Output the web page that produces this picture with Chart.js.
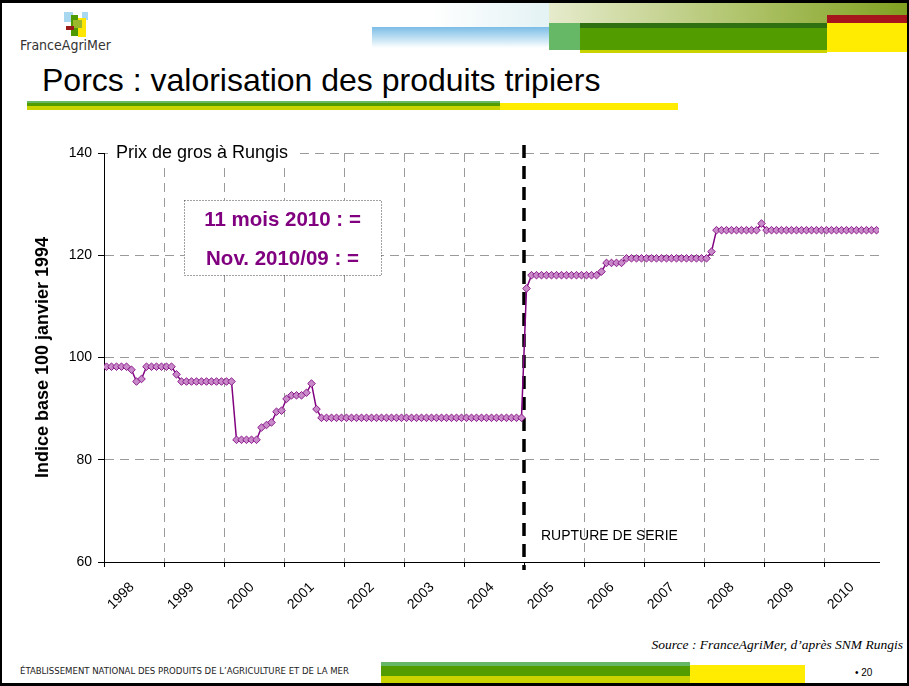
<!DOCTYPE html>
<html>
<head>
<meta charset="utf-8">
<script src="https://cdn.jsdelivr.net/npm/chart.js@4.4.0/dist/chart.umd.min.js"></script>
<style>
  body { margin: 0; background: #fff; }
  #slide { position: relative; width: 909px; height: 686px; overflow: hidden; background: #fff;
           font-family: "Liberation Sans", Arial, sans-serif; }
  .b { position: absolute; }
  .t { position: absolute; white-space: nowrap; line-height: 1; }
  canvas { position: absolute; left: 0; top: 0; }
</style>
</head>
<body>
<div id="slide">
  <!-- header bands -->
  <div class="b" style="left:430px;top:0;width:120px;height:28px;background:linear-gradient(to right,#fff,#e3f2f4);"></div>
  <div class="b" style="left:372px;top:27px;width:177px;height:21px;background:linear-gradient(to bottom,#7cbde6,#cfe9f6 65%,#fff);"></div>
  <div class="b" style="left:549px;top:3px;width:360px;height:20px;background:linear-gradient(to right,#e6ebcc,#a9bf60 60%,#7fa020);"></div>
  <div class="b" style="left:827px;top:15px;width:82px;height:8px;background:#a5151b;"></div>
  <div class="b" style="left:549px;top:23px;width:31px;height:27px;background:#66b866;"></div>
  <div class="b" style="left:580px;top:23px;width:247px;height:5px;background:#2f7010;"></div>
  <div class="b" style="left:580px;top:28px;width:247px;height:22px;background:#529c00;"></div>
  <div class="b" style="left:580px;top:50px;width:247px;height:3px;background:#c9d300;"></div>
  <div class="b" style="left:827px;top:23px;width:82px;height:29px;background:#ffec00;"></div>

  <!-- logo -->
  <div class="b" style="left:64px;top:12px;width:9px;height:10px;background:#a8d8f0;"></div>
  <div class="b" style="left:82px;top:12px;width:6px;height:8px;background:#a8d8f0;"></div>
  <div class="b" style="left:71px;top:15px;width:7px;height:21px;background:#4f9a00;"></div>
  <div class="b" style="left:78px;top:18px;width:8px;height:19px;background:#ffe600;"></div>
  <div class="b" style="left:73px;top:20px;width:9px;height:8px;background:#9ab82a;"></div>
  <div class="b" style="left:66px;top:26px;width:8px;height:4px;background:#9b1b1b;"></div>
  <div class="t" style="left:20px;top:38px;font-family:'Liberation Sans Narrow','DejaVu Sans Condensed',sans-serif;font-size:14px;color:#333;">FranceAgriMer</div>

  <!-- title -->
  <div class="t" style="left:42px;top:64px;font-size:32px;color:#000;">Porcs : valorisation des produits tripiers</div>
  <div class="b" style="left:27px;top:101px;width:473px;height:2px;background:#66b866;"></div>
  <div class="b" style="left:27px;top:103px;width:473px;height:3px;background:#529c00;"></div>
  <div class="b" style="left:27px;top:106px;width:473px;height:4px;background:#c9d300;"></div>
  <div class="b" style="left:500px;top:103px;width:178px;height:7px;background:#ffec00;"></div>

  <!-- footer -->
  <div class="t" style="left:601px;top:638px;width:302px;text-align:right;font-family:'Liberation Serif',serif;font-style:italic;font-size:13.5px;color:#000;">Source : FranceAgriMer, d’après SNM Rungis</div>
  <div class="t" style="left:20px;top:666px;font-family:'Liberation Sans Narrow','DejaVu Sans Condensed',sans-serif;font-size:9.5px;color:#222;">ÉTABLISSEMENT NATIONAL DES PRODUITS DE L’AGRICULTURE ET DE LA MER</div>
  <div class="b" style="left:381px;top:662px;width:309px;height:4px;background:#66b866;"></div>
  <div class="b" style="left:381px;top:666px;width:309px;height:10px;background:#529c00;"></div>
  <div class="b" style="left:381px;top:676px;width:309px;height:8px;background:#c9d300;"></div>
  <div class="b" style="left:690px;top:665px;width:115px;height:19px;background:#ffec00;"></div>
  <div class="t" style="left:855px;top:668px;font-size:10px;color:#000;">• 20</div>

  <canvas id="chart" width="909" height="686"></canvas>
  <div class="b" style="left:0;top:0;width:909px;height:686px;box-sizing:border-box;border:2px solid #000;border-top-width:3px;border-bottom-width:3px;"></div>
</div>

<script>
// tick labels (one per year, placed at the January boundary)
const years = ['1998', '1999', '2000', '2001', '2002', '2003', '2004',
               '2005', '2006', '2007', '2008', '2009', '2010'];

// monthly wholesale price index, Jan..Dec
const p1998 = [98.2, 98.2, 98.2, 98.2, 98.2, 97.6, 95.3, 95.8, 98.2, 98.2, 98.2, 98.2];
const p1999 = [98.2, 98.2, 96.7, 95.3, 95.3, 95.3, 95.3, 95.3, 95.3, 95.3, 95.3, 95.3];
const p2000 = [95.3, 95.3, 83.9, 83.9, 83.9, 83.9, 83.9, 86.3, 86.8, 87.3, 89.4, 89.6];
const p2001 = [91.9, 92.6, 92.6, 92.6, 93.1, 94.9, 89.9, 88.2, 88.2, 88.2, 88.2, 88.2];
const p2002 = [88.2, 88.2, 88.2, 88.2, 88.2, 88.2, 88.2, 88.2, 88.2, 88.2, 88.2, 88.2];
const p2003 = [88.2, 88.2, 88.2, 88.2, 88.2, 88.2, 88.2, 88.2, 88.2, 88.2, 88.2, 88.2];
const p2004 = [88.2, 88.2, 88.2, 88.2, 88.2, 88.2, 88.2, 88.2, 88.2, 88.2, 88.2, 88.2];
const p2005 = [113.5, 116.1, 116.1, 116.1, 116.1, 116.1, 116.1, 116.1, 116.1, 116.1, 116.1, 116.1];
const p2006 = [116.1, 116.1, 116.1, 116.8, 118.5, 118.5, 118.5, 118.5, 119.4, 119.4, 119.4, 119.4];
const p2007 = [119.4, 119.4, 119.4, 119.4, 119.4, 119.4, 119.4, 119.4, 119.4, 119.4, 119.4, 119.4];
const p2008 = [119.4, 120.7, 124.9, 124.9, 124.9, 124.9, 124.9, 124.9, 124.9, 124.9, 124.9, 126.2];
const p2009 = [124.9, 124.9, 124.9, 124.9, 124.9, 124.9, 124.9, 124.9, 124.9, 124.9, 124.9, 124.9];
const p2010 = [124.9, 124.9, 124.9, 124.9, 124.9, 124.9, 124.9, 124.9, 124.9, 124.9, 124.9];

const breakAfter = 84; // series break between Dec 2004 and Jan 2005 (month index)

const series = [].concat(p1998, p1999, p2000, p2001, p2002, p2003, p2004,
                         p2005, p2006, p2007, p2008, p2009, p2010);
const points = series.map((v, i) => ({ x: i, y: v }));

const grey = '#9a9a9a';

const notes = {
  id: 'notes',
  beforeDatasetsDraw(chart) {
    const { ctx, chartArea, scales } = chart;
    const x = Math.round(scales.x.getPixelForValue(breakAfter - 0.5));
    ctx.save();
    ctx.strokeStyle = '#000';
    ctx.lineWidth = 3.5;
    ctx.setLineDash([13, 8]);
    ctx.beginPath();
    ctx.moveTo(x, chartArea.top - 8);
    ctx.lineTo(x, chartArea.bottom + 8);
    ctx.stroke();
    ctx.restore();
  },
  afterDraw(chart) {
    const { ctx, chartArea, scales } = chart;
    ctx.save();
    // label on top gridline
    ctx.font = '18px "Liberation Sans", Arial, sans-serif';
    const lbl = 'Prix de gros à Rungis';
    const w = ctx.measureText(lbl).width;
    ctx.fillStyle = '#fff';
    ctx.fillRect(chartArea.left + 4, chartArea.top - 10, w + 14, 20);
    ctx.fillStyle = '#000';
    ctx.textBaseline = 'middle';
    ctx.fillText(lbl, chartArea.left + 12, chartArea.top);

    // framed note
    const bx = 184, by = 200, bw = 197, bh = 75;
    ctx.fillStyle = '#fff';
    ctx.fillRect(bx, by, bw, bh);
    ctx.strokeStyle = '#444';
    ctx.lineWidth = 1;
    ctx.setLineDash([1, 2]);
    ctx.strokeRect(bx + 0.5, by + 0.5, bw, bh);
    ctx.setLineDash([]);
    ctx.fillStyle = '#800080';
    ctx.font = 'bold 20.5px "Liberation Sans", Arial, sans-serif';
    ctx.textAlign = 'center';
    ctx.fillText('11 mois 2010 : =', bx + bw / 2, by + 20);
    ctx.fillText('Nov. 2010/09 : =', bx + bw / 2, by + 59);

    // series break label
    ctx.fillStyle = '#000';
    ctx.textAlign = 'left';
    ctx.font = '14px "Liberation Sans", Arial, sans-serif';
    const xb = scales.x.getPixelForValue(breakAfter - 0.5);
    ctx.fillText('RUPTURE DE SERIE', xb + 17, chartArea.bottom - 26);
    ctx.restore();
  }
};

new Chart(document.getElementById('chart'), {
  type: 'line',
  data: {
    datasets: [{
      data: points,
      borderColor: '#800080',
      borderWidth: 1.5,
      pointStyle: 'rectRot',
      pointRadius: 3.8,
      pointBackgroundColor: '#c98ac9',
      pointBorderColor: '#8b1a8b',
      pointBorderWidth: 1,
      tension: 0
    }]
  },
  options: {
    responsive: false,
    animation: false,
    layout: { padding: { top: 153, right: 30, left: 0, bottom: 0 } },
    plugins: { legend: { display: false }, tooltip: { enabled: false } },
    scales: {
      x: {
        type: 'linear',
        min: -0.5,
        max: series.length - 0.5,
        afterBuildTicks: s => { s.ticks = years.map((y, k) => ({ value: -0.5 + 12 * k })); },
        afterFit: s => { s.height = 124; },
        ticks: {
          callback: (v, i) => years[i],
          autoSkip: false, minRotation: 45, maxRotation: 45,
          labelOffset: 28, padding: 12, color: '#000',
          font: { family: '"Liberation Sans", Arial, sans-serif', size: 14 }
        },
        grid: {
          color: c => (c.index === 7 ? 'rgba(0,0,0,0)' : grey),
          tickColor: '#000', tickLength: 5, tickBorderDash: []
        },
        border: { color: '#000', width: 1, dash: [9, 6] }
      },
      y: {
        min: 60, max: 140,
        afterFit: s => { s.width = 104; },
        ticks: { stepSize: 20, padding: 6, color: '#000',
                 font: { family: '"Liberation Sans", Arial, sans-serif', size: 14 } },
        grid: { color: grey, tickColor: '#000', tickLength: 6, tickBorderDash: [] },
        border: { color: '#000', width: 1, dash: [9, 6] },
        title: {
          display: true, text: 'Indice base 100 janvier 1994', color: '#000',
          font: { family: '"Liberation Sans", Arial, sans-serif', size: 18, weight: 'bold' },
          padding: { top: 32, bottom: 0 }
        }
      }
    }
  },
  plugins: [notes]
});
</script>
</body>
</html>
